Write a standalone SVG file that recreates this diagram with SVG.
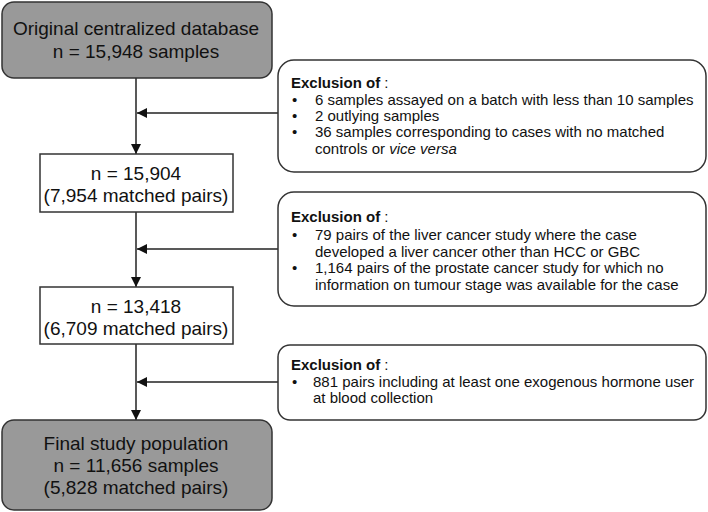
<svg xmlns="http://www.w3.org/2000/svg" width="708" height="512" viewBox="0 0 708 512">
<defs>
<marker id="arr" viewBox="0 0 10 10" refX="10" refY="5" markerWidth="10" markerHeight="10" markerUnits="userSpaceOnUse" orient="auto">
<path d="M0,0 L10,5 L0,10 Z" fill="#111"/>
</marker>
</defs>
<style>
.main{fill:#999;stroke:#333;stroke-width:1.5}
.mid{fill:#fff;stroke:#333;stroke-width:1.5}
.exc{fill:#fff;stroke:#333;stroke-width:1.5}
.big{font-family:"Liberation Sans",Arial,sans-serif;font-size:19px;fill:#111;text-anchor:middle}
.small{font-family:"Liberation Sans",Arial,sans-serif;font-size:15px;fill:#111}
.b{font-weight:bold}
.conn{stroke:#222;stroke-width:1.5;fill:none}
</style>
<g id="connectors">
<line class="conn" x1="136" y1="78" x2="136" y2="154" marker-end="url(#arr)"/>
<line class="conn" x1="278" y1="113" x2="137" y2="113" marker-end="url(#arr)"/>
<line class="conn" x1="136" y1="212" x2="136" y2="287" marker-end="url(#arr)"/>
<line class="conn" x1="278" y1="249" x2="137" y2="249" marker-end="url(#arr)"/>
<line class="conn" x1="136" y1="344" x2="136" y2="420" marker-end="url(#arr)"/>
<line class="conn" x1="278" y1="382" x2="137" y2="382" marker-end="url(#arr)"/>
</g>
<g id="original">
<rect class="main" x="2" y="2" width="270" height="76" rx="12"/>
<text class="big" x="136" y="35">Original centralized database</text>
<text class="big" x="136" y="58">n = 15,948 samples</text>
</g>
<g id="n15904">
<rect class="mid" x="40" y="154" width="193" height="58"/>
<text class="big" x="136" y="180">n = 15,904</text>
<text class="big" x="136" y="202">(7,954 matched pairs)</text>
</g>
<g id="n13418">
<rect class="mid" x="40" y="287" width="193" height="57"/>
<text class="big" x="136" y="313">n = 13,418</text>
<text class="big" x="136" y="335">(6,709 matched pairs)</text>
</g>
<g id="final">
<rect class="main" x="2" y="420" width="270" height="90" rx="12"/>
<text class="big" x="136" y="450">Final study population</text>
<text class="big" x="136" y="472">n = 11,656 samples</text>
<text class="big" x="136" y="494">(5,828 matched pairs)</text>
</g>
<g id="exclusion1">
<rect class="exc" x="278" y="60" width="428" height="112" rx="16"/>
<text class="small" x="291" y="88"><tspan class="b">Exclusion of</tspan> :</text>
<text class="small" x="292" y="105">•</text><text class="small" x="315" y="105">6 samples assayed on a batch with less than 10 samples</text>
<text class="small" x="292" y="121">•</text><text class="small" x="315" y="121">2 outlying samples</text>
<text class="small" x="292" y="137">•</text><text class="small" x="315" y="137">36 samples corresponding to cases with no matched</text>
<text class="small" x="315" y="154">controls or <tspan font-style="italic">vice versa</tspan></text>
</g>
<g id="exclusion2">
<rect class="exc" x="278" y="192" width="428" height="114" rx="16"/>
<text class="small" x="291" y="222"><tspan class="b">Exclusion of</tspan> :</text>
<text class="small" x="292" y="240">•</text><text class="small" x="315" y="240">79 pairs of the liver cancer study where the case</text>
<text class="small" x="315" y="257">developed a liver cancer other than HCC or GBC</text>
<text class="small" x="292" y="273">•</text><text class="small" x="315" y="273">1,164 pairs of the prostate cancer study for which no</text>
<text class="small" x="315" y="290">information on tumour stage was available for the case</text>
</g>
<g id="exclusion3">
<rect class="exc" x="278" y="345" width="428" height="75" rx="12"/>
<text class="small" x="291" y="370"><tspan class="b">Exclusion of</tspan> :</text>
<text class="small" x="292" y="387">•</text><text class="small" x="313" y="387">881 pairs including at least one exogenous hormone user</text>
<text class="small" x="313" y="403">at blood collection</text>
</g>
</svg>
